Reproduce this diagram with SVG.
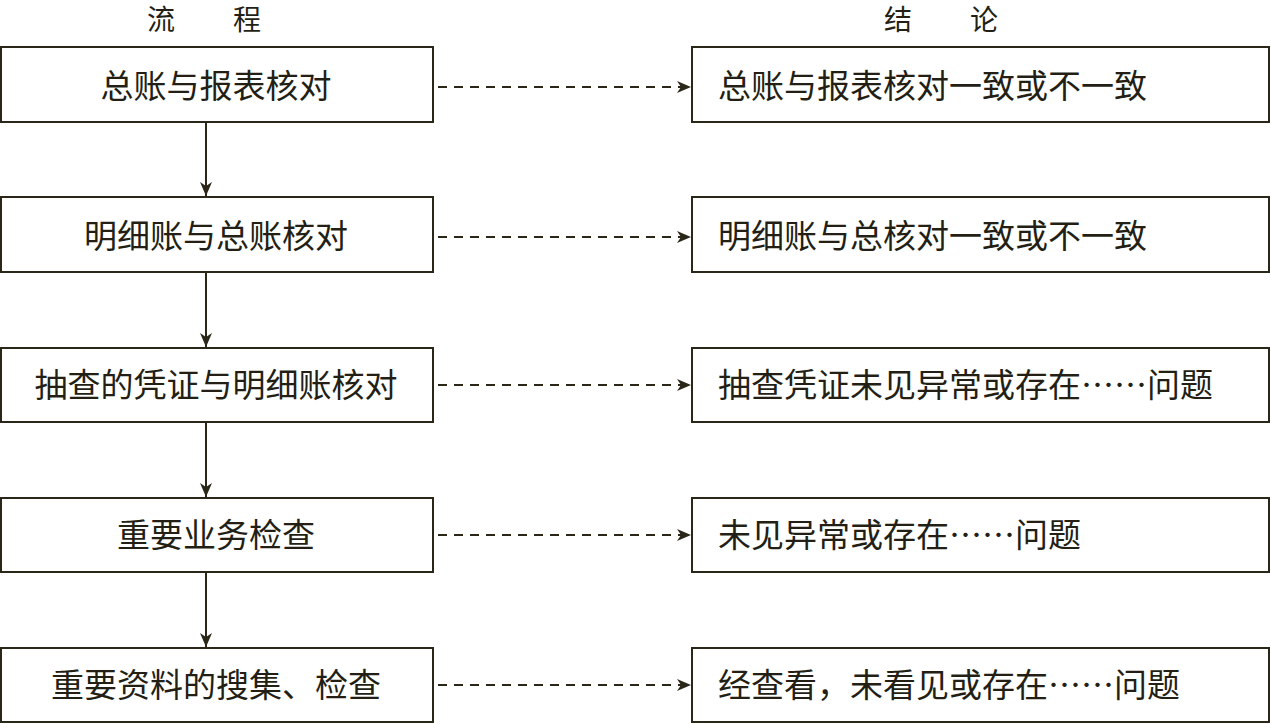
<svg xmlns="http://www.w3.org/2000/svg" width="1271" height="724" viewBox="0 0 1271 724">
<defs>
<style>
.box{fill:#fff;stroke:#2a2618;stroke-width:2}
.t{font-family:"Noto Sans CJK SC","Noto Sans CJK JP",sans-serif;font-size:33px;fill:#231f14}
.h{font-family:"Noto Sans CJK SC","Noto Sans CJK JP",sans-serif;font-size:28px;fill:#231f14}
.c{text-anchor:middle}
.solid{stroke:#2a2618;stroke-width:2;fill:none}
.dash{stroke:#2a2618;stroke-width:2;fill:none;stroke-dasharray:9 7}
</style>
<marker id="ah" viewBox="0 0 14 12" refX="14" refY="6" markerWidth="14" markerHeight="12" markerUnits="userSpaceOnUse" orient="auto">
<path d="M0,0 L14,6 L0,12 L4,6 Z" fill="#2a2618"/>
</marker>
</defs>
<rect width="1271" height="724" fill="#fff"/>
<g id="headers">
<text class="h" x="147" y="30">流</text>
<text class="h" x="233" y="30">程</text>
<text class="h" x="884" y="30">结</text>
<text class="h" x="970" y="30">论</text>
</g>
<g id="n1"><rect class="box" x="1" y="47" width="432" height="75"/><text class="t c" x="216" y="98">总账与报表核对</text></g>
<g id="n2"><rect class="box" x="1" y="197" width="432" height="75"/><text class="t c" x="216" y="248">明细账与总账核对</text></g>
<g id="n3"><rect class="box" x="1" y="348" width="432" height="74"/><text class="t c" x="216" y="397">抽查的凭证与明细账核对</text></g>
<g id="n4"><rect class="box" x="1" y="498" width="432" height="74"/><text class="t c" x="216" y="547">重要业务检查</text></g>
<g id="n5"><rect class="box" x="1" y="648" width="432" height="74"/><text class="t c" x="216" y="697">重要资料的搜集、检查</text></g>
<g id="r1"><rect class="box" x="692" y="47" width="577" height="75"/><text class="t" x="718" y="98">总账与报表核对一致或不一致</text></g>
<g id="r2"><rect class="box" x="692" y="197" width="577" height="75"/><text class="t" x="718" y="248">明细账与总核对一致或不一致</text></g>
<g id="r3"><rect class="box" x="692" y="348" width="577" height="74"/><text class="t" x="718" y="397">抽查凭证未见异常或存在……问题</text></g>
<g id="r4"><rect class="box" x="692" y="498" width="577" height="74"/><text class="t" x="718" y="547">未见异常或存在……问题</text></g>
<g id="r5"><rect class="box" x="692" y="648" width="577" height="74"/><text class="t" x="718" y="697">经查看，未看见或存在……问题</text></g>
<g id="connectors">
<line class="solid" x1="206" y1="122" x2="206" y2="196" marker-end="url(#ah)"/>
<line class="solid" x1="206" y1="272" x2="206" y2="347" marker-end="url(#ah)"/>
<line class="solid" x1="206" y1="422" x2="206" y2="497" marker-end="url(#ah)"/>
<line class="solid" x1="206" y1="572" x2="206" y2="647" marker-end="url(#ah)"/>
<line class="dash" x1="438" y1="87" x2="691" y2="87" marker-end="url(#ah)"/>
<line class="dash" x1="438" y1="237" x2="691" y2="237" marker-end="url(#ah)"/>
<line class="dash" x1="438" y1="385" x2="691" y2="385" marker-end="url(#ah)"/>
<line class="dash" x1="438" y1="535" x2="691" y2="535" marker-end="url(#ah)"/>
<line class="dash" x1="438" y1="685" x2="691" y2="685" marker-end="url(#ah)"/>
</g>
</svg>
